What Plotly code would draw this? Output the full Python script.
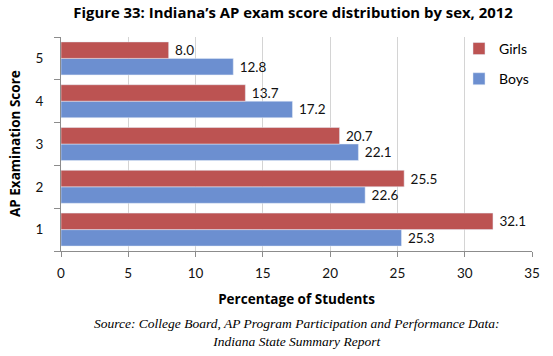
import plotly.graph_objects as go

scores = ["1", "2", "3", "4", "5"]
girls = [32.1, 25.5, 20.7, 13.7, 8.0]
boys = [25.3, 22.6, 22.1, 17.2, 12.8]
x_ticks = [0, 5, 10, 15, 20, 25, 30, 35]

RED = "#BC5352"
BLUE = "#6C8FD0"
TICKFONT = dict(family="Lato, Carlito, Liberation Sans, sans-serif", size=13.5, color="#111")
BOLD = "Open Sans, Liberation Sans, sans-serif"

W, H = 553, 356
L, R, T, B = 61, 21, 37, 105
PW = W - L - R

fig = go.Figure()
fig.add_trace(go.Bar(
    y=scores, x=boys, orientation="h", name="Boys", marker_color=BLUE,
    text=[f"\u00a0{v:.1f}" for v in boys], textposition="outside",
    textfont=TICKFONT, cliponaxis=False, legendrank=2, legendgroup="b",
))
fig.add_trace(go.Bar(
    y=scores, x=girls, orientation="h", name="Girls", marker_color=RED,
    text=[f"\u00a0{v:.1f}" for v in girls], textposition="outside",
    textfont=TICKFONT, cliponaxis=False, legendrank=1, legendgroup="g",
))

fig.update_layout(
    width=W, height=H,
    margin=dict(l=L, r=R, t=T, b=B),
    paper_bgcolor="white", plot_bgcolor="white",
    barmode="group", bargap=0.23, bargroupgap=0,
    title=dict(
        text="<b>Figure 33: Indiana\u2019s AP exam score distribution by sex, 2012</b>",
        xref="container", x=293 / W, xanchor="center",
        yref="container", y=1 - 13 / H, yanchor="middle",
        font=dict(family=BOLD, size=14.9, color="#000"),
    ),
    legend=dict(
        x=0.845, xanchor="left", y=1.019, yanchor="top",
        traceorder="grouped", tracegroupgap=9,
        font=dict(family="Lato, sans-serif", size=14, color="#000"),
        bgcolor="rgba(255,255,255,0)",
    ),
    xaxis=dict(
        range=[0, 35], tickvals=x_ticks, ticktext=[str(t) for t in x_ticks],
        showgrid=True, gridcolor="#D4D4D4", gridwidth=1,
        showline=True, linecolor="#8C8C8C", linewidth=1,
        ticks="outside", ticklen=5, tickcolor="#8C8C8C", ticklabelstandoff=5,
        tickfont=TICKFONT, zeroline=False, automargin=False,
        title=dict(text="<b>Percentage of Students</b>", font=dict(family=BOLD, size=13.5, color="#000"), standoff=14),
    ),
    yaxis=dict(
        type="category", categoryorder="array", categoryarray=scores,
        showline=True, linecolor="#8C8C8C", linewidth=1,
        ticks="outside", ticklen=6, tickcolor="#8C8C8C", tickson="boundaries",
        ticklabelstandoff=14,
        tickfont=TICKFONT, showgrid=False, automargin=False,
    ),
    annotations=[
        dict(
            text="<b>AP Examination Score</b>",
            xref="paper", yref="paper", x=(15 - L) / PW, xanchor="center",
            y=0.5, yanchor="middle", textangle=-90, showarrow=False,
            font=dict(family=BOLD, size=13.5, color="#000"),
        ),
        dict(
            text="<i>Source: College Board, AP Program Participation and Performance Data:</i><br><i>Indiana State Summary Report</i>",
            xref="paper", yref="paper", x=0.5, xanchor="center",
            y=0, yanchor="top", yshift=-63,
            showarrow=False, align="center",
            font=dict(family="Liberation Serif, serif", size=13.5, color="#000"),
        ),
    ],
)

# remove the browser's default 8px body margin so the figure fills the window
fig.write_html(
    "out.html",
    config={"displayModeBar": False},
    post_script="document.body.style.margin='0';",
)
